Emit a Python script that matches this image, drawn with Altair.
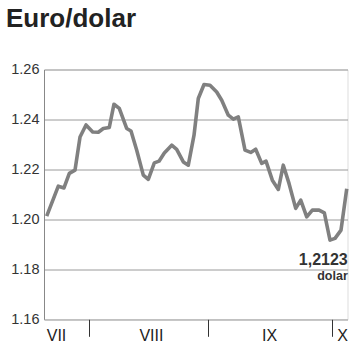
import altair as alt
import pandas as pd

# trading-day position (x) and EUR/USD rate
days = [0.5, 2.65, 3.7, 4.69, 5.74, 6.67, 7.78, 9.02, 10.06, 10.98, 12.09, 12.96, 13.94,
        15.31, 16.11, 17.17, 18.39, 19.31, 20.43, 21.3, 22.28, 23.65, 24.57, 25.8, 26.72,
        27.78, 28.57, 29.63, 30.74, 31.98, 32.91, 34.13, 35.06, 35.98, 37.22, 38.28, 39.2,
        40.31, 41.11, 42.28, 43.39, 44.31, 45.37, 46.61, 47.54, 48.65, 49.69, 50.93, 51.91,
        52.96, 53.89, 55.0, 56.06]
rates = [1.2013, 1.2133, 1.2126, 1.2184, 1.2197, 1.2330, 1.2378, 1.2350, 1.2349, 1.2364,
         1.2368, 1.2461, 1.2444, 1.2364, 1.2354, 1.2277, 1.2177, 1.2160, 1.2226, 1.2233,
         1.2266, 1.2297, 1.2280, 1.2230, 1.2217, 1.2337, 1.2484, 1.2540, 1.2537, 1.2510,
         1.2477, 1.2417, 1.2401, 1.2410, 1.2277, 1.2268, 1.2281, 1.2224, 1.2233, 1.2157,
         1.2120, 1.2217, 1.2144, 1.2044, 1.2077, 1.2010, 1.2037, 1.2037, 1.2026, 1.1917,
         1.1924, 1.1957, 1.2123]
assert len(days) == len(rates)

month_bounds = [8.33, 30.37, 53.28]
month_labels = ["VII", "VIII", "IX", "X"]
month_label_pos = [2.22, 19.8, 41.67, 55.2]
y_ticks = [1.16, 1.18, 1.20, 1.22, 1.24, 1.26]
last_value_text = "1,2123"
last_unit_text = "dolar"

df = pd.DataFrame({"day": days, "rate": rates})
last = df.tail(1).assign(t1=last_value_text, t2=last_unit_text)

FONT = "Liberation Sans"
x_scale = alt.Scale(domain=[0, 56.2], nice=False, zero=False)
y_scale = alt.Scale(domain=[1.16, 1.26], nice=False, zero=False)

label_expr = "{}[indexof({}, datum.value)]".format(
    "[" + ",".join("'%s'" % m for m in month_labels) + "]",
    "[" + ",".join(str(v) for v in month_label_pos) + "]",
)

line = alt.Chart(df).mark_line(color="#808080", strokeWidth=3.6, strokeJoin="round").encode(
    x=alt.X("day:Q", scale=x_scale, title=None,
            axis=alt.Axis(orient="bottom", values=month_label_pos, labelExpr=label_expr,
                          ticks=False, domain=False, grid=False, labelPadding=8,
                          labelFontSize=16, labelFont=FONT, labelColor="#222")),
    y=alt.Y("rate:Q", scale=y_scale, title=None,
            axis=alt.Axis(orient="left", values=y_ticks, format=".2f", ticks=False,
                          labelPadding=5, labelFontSize=14.5, labelFont=FONT,
                          labelColor="#333", grid=True, gridColor="#9a9a9a", gridWidth=1,
                          domainColor="#888", domainWidth=1)),
)

ticks_layer = alt.Chart(df).mark_line(opacity=0).encode(
    x=alt.X("day:Q", scale=x_scale, title=None,
            axis=alt.Axis(orient="bottom", values=month_bounds, labels=False,
                          tickSize=17, tickColor="#333", tickWidth=1,
                          domain=False, grid=False)),
    y=alt.Y("rate:Q", scale=y_scale, title=None, axis=None),
)

txt1 = alt.Chart(last).mark_text(align="right", baseline="alphabetic", dx=1, dy=76,
                                 fontSize=16, fontWeight="bold", font=FONT, color="#333").encode(
    x=alt.X("day:Q", scale=x_scale, axis=None),
    y=alt.Y("rate:Q", scale=y_scale, axis=None),
    text="t1:N",
)
txt2 = alt.Chart(last).mark_text(align="right", baseline="alphabetic", dx=1, dy=91,
                                 fontSize=12.5, fontWeight="bold", font=FONT, color="#333").encode(
    x=alt.X("day:Q", scale=x_scale, axis=None),
    y=alt.Y("rate:Q", scale=y_scale, axis=None),
    text="t2:N",
)

chart = alt.layer(line, ticks_layer, txt1, txt2).resolve_axis(
    x="independent", y="independent"
).properties(
    width=303.5,
    height=249.8,
    autosize=alt.AutoSizeParams(type="none"),
    padding={"left": 44, "top": 69.5, "right": 2.5, "bottom": 31.7},
    title=alt.TitleParams("Euro/dolar", anchor="start", frame="group", dx=-38, offset=30,
                          fontSize=26, font=FONT, fontWeight="bold", color="#222"),
).configure_view(stroke="#888", strokeWidth=1).configure(background="white")

chart.save("out.html", embed_options={"renderer": "svg", "actions": False})
